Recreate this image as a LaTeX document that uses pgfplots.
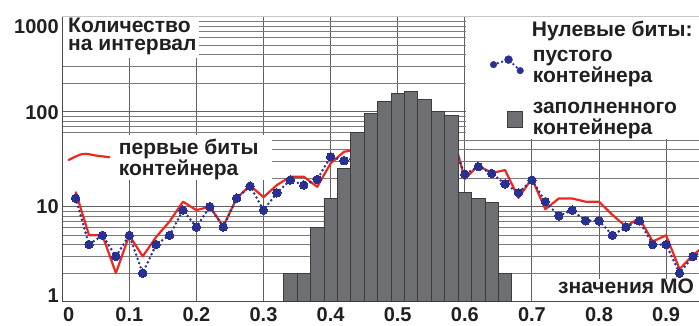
\documentclass[border=0pt]{standalone}
\usepackage{pgfplots}
\pgfplotsset{compat=1.18}
\usepackage{fontspec}
\setmainfont{Liberation Sans}
\definecolor{redc}{RGB}{238,40,30}
\definecolor{bluec}{RGB}{40,48,145}
\definecolor{barfill}{RGB}{110,111,114}
\definecolor{baredge}{RGB}{60,60,62}
\definecolor{textc}{RGB}{35,31,32}
\newcommand{\lblfont}{\fontsize{21}{17.5}\selectfont\bfseries}
\newcommand{\two}[2]{\begin{tabular}{@{}l@{}}#1\\#2\end{tabular}}
\begin{document}
\begin{tikzpicture}
\useasboundingbox (-62.2pt,-23.3pt) rectangle (636.8pt,301.7pt);
\begin{axis}[
  at={(0pt,0pt)}, anchor=south west,
  scale only axis, width=636.8pt, height=285pt,
  xmin=0, xmax=0.949, ymode=log, ymin=1, ymax=1000,
  clip marker paths=true,
  axis x line*=bottom, axis y line*=left,
  axis line style={draw=black!70, line width=1.1pt},
  xtick={0,0.1,0.2,0.3,0.4,0.5,0.6,0.7,0.8,0.9},
  xticklabels={\rlap{\hspace{1pt}0},0.1,0.2,0.3,0.4,0.5,0.6,0.7,0.8,0.9},
  ytick={1,10,100,1000},
  yticklabels={\smash{\raisebox{-0.5pt}{1}},\smash{\raisebox{-6.7pt}{10}},\smash{\raisebox{-7.3pt}{100}},\smash{\raisebox{-16.6pt}{1000}}},
  minor ytick={2,3,4,5,6,7,8,9,20,30,40,50,60,70,80,90,200,300,400,500,600,700,800,900},
  grid=both,
  major grid style={draw=black!62, line width=1pt},
  minor grid style={draw=black!52, line width=0.8pt},
  major tick length=0pt, minor tick length=0pt,
  tick label style={font=\fontsize{20}{20}\selectfont\bfseries, text=textc},
  xticklabel style={inner ysep=0.5pt, yshift=-5pt},
]
\addplot[redc, line width=2.2pt, line join=round] coordinates {
(0.02,14.4) (0.04,5.0) (0.06,5.0) (0.08,2.0) (0.10,5.0) (0.12,3.0) (0.14,4.8) (0.16,7.0)
(0.18,11.3) (0.20,9.2) (0.22,10) (0.24,6.2) (0.26,12.3) (0.28,16.7) (0.30,12.6) (0.32,16.9)
(0.34,20.7) (0.36,20.7) (0.38,16.2) (0.40,28.6) (0.42,37.9) (0.44,40) (0.46,45) (0.48,50)
(0.50,55) (0.52,58) (0.54,60) (0.56,62) (0.58,65) (0.60,19.6) (0.62,27.2) (0.64,22.6)
(0.66,24.3) (0.68,12.4) (0.70,19.8) (0.72,9.4) (0.74,12.2) (0.76,12.2) (0.78,11.3) (0.80,11.3)
(0.82,8.2) (0.84,6.2) (0.86,7.6) (0.88,4.3) (0.90,5.0) (0.92,2.2) (0.94,3.1) (0.96,4.0)
};
\addplot[bluec, line width=2.8pt, line cap=round, dash pattern=on 0pt off 4.5pt,
  mark=*, mark size=4.2pt, mark options={solid, fill=bluec, draw=bluec, line width=0pt}] coordinates {
(0.02,12.3) (0.04,4.0) (0.06,5.0) (0.08,3.0) (0.10,5.0) (0.12,2.0) (0.14,4.0) (0.16,5.0)
(0.18,9.2) (0.20,6.1) (0.22,10) (0.24,6.1) (0.26,12.3) (0.28,16.5) (0.30,9.2) (0.32,14)
(0.34,19.1) (0.36,16.9) (0.38,19.4) (0.40,33.6) (0.42,30.5) (0.44,33) (0.46,40) (0.48,45)
(0.50,50) (0.52,52) (0.54,55) (0.56,55) (0.58,50) (0.60,22) (0.62,26.4) (0.64,22.4)
(0.66,17.4) (0.68,14) (0.70,19.1) (0.72,11.3) (0.74,8.0) (0.76,9.2) (0.78,7.1) (0.80,7.1)
(0.82,5.0) (0.84,6.1) (0.86,7.1) (0.88,4.0) (0.90,4.0) (0.92,2.0) (0.94,3.0) (0.96,3.5)
};
\addplot[ybar, bar width=0.02, bar shift=0pt, fill=barfill, draw=baredge, line width=0.7pt] coordinates {
(0.34,2.0) (0.36,2.0) (0.38,6.0) (0.40,12.3) (0.42,25.4) (0.44,60) (0.46,96) (0.48,127)
(0.50,156) (0.52,165) (0.54,136) (0.56,100) (0.58,92) (0.60,14) (0.62,12.1) (0.64,11) (0.66,2.0)
};
\end{axis}
% white label boxes
\fill[white] (0.8pt,243.7pt) rectangle (136.8pt,285pt);
\fill[white] (0.8pt,121.7pt) rectangle (209.8pt,166.7pt);
\fill[white] (403.8pt,162.7pt) rectangle (636.8pt,285pt);
\fill[white] (492.8pt,0.8pt) rectangle (636.8pt,23pt);
\draw[black!22, line width=1.2pt] (0pt,285pt) -- (636.8pt,285pt);
\begin{scope}[every node/.style={inner sep=0pt, anchor=base west, font=\lblfont, text=textc}]
\node at (5.8pt,269pt) {\begin{tabular}[t]{@{}l@{}}Количество\\на интервал\end{tabular}};
\node at (469.5pt,265.7pt) {Нулевые биты:};
\node at (495.8pt,8.2pt) {значения МО};
\end{scope}
% legend: first bits
\begin{axis}[
  at={(0pt,0pt)}, anchor=south west,
  scale only axis, width=636.8pt, height=285pt,
  hide axis, xmin=0, xmax=1, ymin=0, ymax=1,
  legend cell align=left,
  legend style={at={(0.00864,0.5693)}, anchor=north west, draw=none, fill=none,
    inner sep=0pt, outer sep=0pt, column sep=8.4pt, font=\lblfont, text=textc,
    nodes={inner sep=0pt, text depth=}},
]
\addlegendimage{legend image code/.code={
  \draw[redc, line width=2.2pt, line cap=round] plot[smooth, tension=0.6] coordinates {(0pt,0.25pt) (14pt,6.25pt) (27.3pt,4.65pt) (40.6pt,2.95pt)};}}
\addlegendentry{\two{первые биты}{контейнера}}
\end{axis}
% legend: zero bits
\begin{axis}[
  at={(0pt,0pt)}, anchor=south west,
  scale only axis, width=636.8pt, height=285pt,
  hide axis, xmin=0, xmax=1, ymin=0, ymax=1,
  legend cell align=left,
  legend style={at={(0.6718,0.8851)}, anchor=north west, draw=none, fill=none,
    inner sep=0pt, outer sep=0pt, column sep=9.2pt, row sep=13.3pt, font=\lblfont, text=textc,
    nodes={inner sep=0pt, text depth=}},
]
\addlegendimage{legend image code/.code={
  \draw[bluec, line width=2.6pt, line cap=round, dash pattern=on 0pt off 4.5pt] (3.3pt,4pt) -- (18.3pt,9pt) -- (30pt,-2pt);
  \fill[bluec] (3.3pt,4pt) circle (3.3pt) (18.3pt,9pt) circle (4pt) (30pt,-2pt) circle (3.3pt);}}
\addlegendentry{\two{пустого}{контейнера}}
\addlegendimage{legend image code/.code={
  \path (0pt,0pt);
  \fill[barfill, draw=baredge, line width=0.6pt] (17pt,-6.75pt) rectangle (32pt,9.25pt);}}
\addlegendentry{\two{заполненного}{контейнера}}
\end{axis}
\end{tikzpicture}
\end{document}
